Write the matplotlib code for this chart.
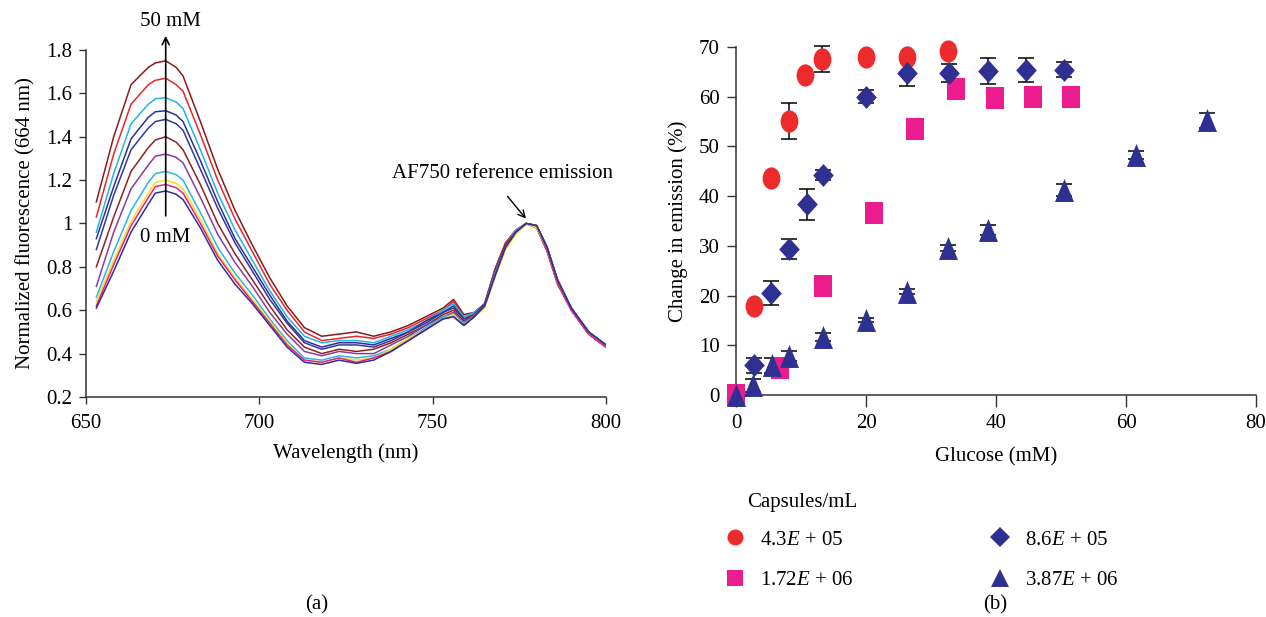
import matplotlib
matplotlib.use("Agg")
import matplotlib.pyplot as plt
import numpy as np
from matplotlib.lines import Line2D
from matplotlib.path import Path
from matplotlib.ticker import FormatStrFormatter
from matplotlib.transforms import Affine2D

plt.rcParams["font.family"] = ["Liberation Serif", "DejaVu Serif"]
plt.rcParams["mathtext.fontset"] = "custom"
plt.rcParams["mathtext.rm"] = "Liberation Serif"
plt.rcParams["mathtext.it"] = "Liberation Serif:italic"

# ---- panel (a): emission spectra, 50 mM (top) down to 0 mM (bottom) ----
wavelength_nm = [653, 658, 663, 668, 670, 673, 676, 678, 683, 688, 693, 698, 703, 708, 713,
                 718, 723, 728, 733, 738, 743, 748, 753, 756, 759, 762, 765, 768, 771, 774,
                 777, 780, 783, 786, 790, 795, 800]

spec_01 = [1.10, 1.40, 1.64, 1.72, 1.74, 1.75, 1.72, 1.68, 1.47, 1.25, 1.06, 0.90, 0.75, 0.62,
           0.52, 0.48, 0.49, 0.50, 0.48, 0.50, 0.53, 0.57, 0.61, 0.65, 0.58, 0.59, 0.63, 0.79,
           0.91, 0.97, 1.00, 0.98, 0.87, 0.72, 0.60, 0.49, 0.43]
spec_02 = [1.03, 1.32, 1.55, 1.64, 1.66, 1.67, 1.64, 1.61, 1.41, 1.20, 1.02, 0.87, 0.72, 0.60,
           0.50, 0.46, 0.47, 0.48, 0.47, 0.49, 0.52, 0.56, 0.60, 0.64, 0.57, 0.59, 0.63, 0.79,
           0.91, 0.97, 1.00, 0.98, 0.88, 0.73, 0.60, 0.49, 0.43]
spec_03 = [0.96, 1.23, 1.46, 1.55, 1.575, 1.58, 1.56, 1.53, 1.34, 1.14, 0.97, 0.83, 0.69, 0.57,
           0.48, 0.45, 0.46, 0.46, 0.45, 0.48, 0.51, 0.55, 0.60, 0.63, 0.57, 0.59, 0.63, 0.78,
           0.90, 0.97, 1.00, 0.99, 0.89, 0.74, 0.61, 0.50, 0.44]
spec_04 = [0.93, 1.17, 1.39, 1.49, 1.515, 1.52, 1.50, 1.47, 1.29, 1.10, 0.93, 0.80, 0.67, 0.55,
           0.46, 0.43, 0.45, 0.45, 0.44, 0.47, 0.50, 0.55, 0.59, 0.62, 0.56, 0.58, 0.63, 0.78,
           0.90, 0.96, 1.00, 0.99, 0.89, 0.74, 0.61, 0.50, 0.44]
spec_05 = [0.88, 1.13, 1.34, 1.44, 1.47, 1.48, 1.46, 1.43, 1.25, 1.07, 0.91, 0.78, 0.65, 0.54,
           0.45, 0.42, 0.44, 0.44, 0.43, 0.46, 0.50, 0.54, 0.59, 0.61, 0.56, 0.58, 0.62, 0.78,
           0.90, 0.96, 1.00, 0.99, 0.89, 0.74, 0.61, 0.50, 0.43]
spec_06 = [0.80, 1.03, 1.24, 1.35, 1.385, 1.40, 1.375, 1.34, 1.18, 1.00, 0.86, 0.74, 0.62, 0.51,
           0.43, 0.40, 0.42, 0.41, 0.42, 0.45, 0.49, 0.53, 0.58, 0.60, 0.55, 0.58, 0.62, 0.77,
           0.90, 0.96, 1.00, 0.98, 0.88, 0.73, 0.60, 0.49, 0.43]
spec_07 = [0.71, 0.96, 1.16, 1.27, 1.31, 1.32, 1.305, 1.28, 1.12, 0.95, 0.82, 0.71, 0.59, 0.49,
           0.41, 0.39, 0.41, 0.40, 0.40, 0.44, 0.48, 0.53, 0.57, 0.59, 0.54, 0.58, 0.62, 0.77,
           0.89, 0.96, 1.00, 0.99, 0.88, 0.73, 0.60, 0.49, 0.43]
spec_08 = [0.66, 0.87, 1.06, 1.19, 1.23, 1.24, 1.225, 1.20, 1.05, 0.89, 0.77, 0.67, 0.56, 0.46,
           0.38, 0.37, 0.39, 0.38, 0.39, 0.42, 0.47, 0.52, 0.57, 0.58, 0.54, 0.57, 0.62, 0.77,
           0.89, 0.96, 1.00, 0.99, 0.89, 0.74, 0.61, 0.50, 0.44]
spec_09 = [0.64, 0.83, 1.01, 1.14, 1.19, 1.20, 1.185, 1.16, 1.02, 0.86, 0.75, 0.65, 0.55, 0.45,
           0.37, 0.36, 0.38, 0.37, 0.38, 0.42, 0.47, 0.51, 0.56, 0.58, 0.53, 0.57, 0.61, 0.75,
           0.88, 0.95, 1.00, 0.98, 0.88, 0.73, 0.60, 0.49, 0.43]
spec_10 = [0.62, 0.81, 0.99, 1.12, 1.17, 1.18, 1.165, 1.14, 1.00, 0.85, 0.74, 0.64, 0.54, 0.44,
           0.37, 0.36, 0.38, 0.36, 0.38, 0.41, 0.46, 0.51, 0.56, 0.57, 0.53, 0.57, 0.62, 0.76,
           0.89, 0.96, 1.00, 0.99, 0.88, 0.73, 0.60, 0.49, 0.43]
spec_11 = [0.61, 0.78, 0.96, 1.09, 1.14, 1.15, 1.135, 1.11, 0.98, 0.83, 0.72, 0.63, 0.53, 0.43,
           0.36, 0.35, 0.37, 0.355, 0.37, 0.41, 0.46, 0.51, 0.56, 0.57, 0.53, 0.57, 0.62, 0.76,
           0.89, 0.96, 1.00, 0.99, 0.89, 0.74, 0.61, 0.50, 0.44]

spec_colors = ["#8b1a1a", "#e8262a", "#22b4e6", "#2e3192", "#33389a", "#8b2323",
               "#8e3a96", "#29b6e8", "#f2e31a", "#ec1c8c", "#2e3192"]

# ---- panel (b): change in emission vs glucose ----
red_x = [2.7, 5.4, 8.1, 10.6, 13.3, 20.0, 26.3, 32.6]
red_y = [17.9, 43.7, 55.1, 64.4, 67.6, 67.9, 67.9, 69.1]
red_err = [0, 0, 3.6, 0, 2.6, 0, 0, 0]

diamond_x = [2.7, 5.4, 8.2, 10.9, 13.4, 20.0, 26.3, 32.7, 38.7, 44.6, 50.5]
diamond_y = [6.0, 20.6, 29.3, 38.4, 44.3, 60.0, 64.7, 64.7, 65.2, 65.4, 65.4]
diamond_err = [1.5, 2.4, 2.0, 3.1, 1.0, 1.3, 2.6, 1.8, 2.6, 2.4, 1.5]

square_x = [0.0, 6.7, 13.4, 21.3, 27.5, 33.8, 39.8, 45.7, 51.5]
square_y = [0.0, 5.4, 21.9, 36.7, 53.5, 61.6, 59.8, 60.0, 60.0]

triangle_x = [0.0, 2.6, 5.5, 8.2, 13.4, 20.0, 26.3, 32.6, 38.7, 50.5, 61.6, 72.4]
triangle_y = [0.0, 2.0, 6.0, 7.8, 11.7, 15.1, 20.8, 29.5, 33.2, 41.2, 48.3, 55.3]
triangle_err = [0, 1.3, 1.5, 1.0, 0.8, 0.4, 0.5, 0.6, 1.0, 1.2, 0.8, 1.5]

legend_labels = ["4.3$E$ + 05", "1.72$E$ + 06", "8.6$E$ + 05", "3.87$E$ + 06"]

RED = "#ee2b2c"
PINK = "#ec1c8e"
NAVY = "#2e3192"
FS = 15

ellipse_marker = Path.unit_circle().transformed(Affine2D().scale(0.8, 1.0))
rect_marker = [(-0.78, -1), (0.78, -1), (0.78, 1), (-0.78, 1), (-0.78, -1)]
tri_marker = [(0, 1), (0.83, -1), (-0.83, -1), (0, 1)]
diamond_marker = [(0, 1), (0.9, 0), (0, -1), (-0.9, 0), (0, 1)]


def style_axes(axes, xlen, ylen):
    for side in ("top", "right"):
        axes.spines[side].set_visible(False)
    for side in ("left", "bottom"):
        axes.spines[side].set_color("#333333")
        axes.spines[side].set_linewidth(1.1)
    axes.tick_params(axis="x", direction="out", length=xlen, width=1.0,
                     color="#333333", pad=7.5, labelsize=FS)
    axes.tick_params(axis="y", direction="out", length=ylen, width=1.0,
                     color="#333333", pad=5, labelsize=FS)


def draw_spectra(axes):
    spectra = [spec_01, spec_02, spec_03, spec_04, spec_05, spec_06,
               spec_07, spec_08, spec_09, spec_10, spec_11]
    for values, color in zip(spectra, spec_colors):
        axes.plot(wavelength_nm, values, color=color, lw=1.1)

    axes.set_xlim(650, 800)
    axes.set_ylim(0.2, 1.8)
    axes.set_xticks([650, 700, 750, 800])
    axes.set_yticks(np.arange(0.2, 1.81, 0.2))
    axes.yaxis.set_major_formatter(FormatStrFormatter("%g"))
    style_axes(axes, 5, 5)
    axes.set_xlabel("Wavelength (nm)", fontsize=FS, labelpad=7.5)
    axes.set_ylabel("Normalized fluorescence (664 nm)", fontsize=FS, labelpad=7.5)

    axes.annotate("", xy=(673, 1.865), xytext=(673, 1.035), annotation_clip=False,
                  arrowprops=dict(arrowstyle="->,head_length=0.5,head_width=0.25",
                                  lw=1.2, color="black", shrinkA=0, shrinkB=0))
    axes.text(674.3, 1.93, "50 mM", ha="center", va="center", fontsize=FS)
    axes.text(672.8, 0.935, "0 mM", ha="center", va="center", fontsize=FS)
    axes.annotate("", xy=(776.9, 1.022), xytext=(771.6, 1.125),
                  arrowprops=dict(arrowstyle="->,head_length=0.5,head_width=0.25",
                                  lw=1.0, color="black", shrinkA=0, shrinkB=0))
    axes.text(770.1, 1.232, "AF750 reference emission", ha="center", va="center",
              fontsize=FS)


def draw_errorbars(axes, xs, ys, errs):
    keep = [i for i, e in enumerate(errs) if e > 0]
    axes.errorbar([xs[i] for i in keep], [ys[i] for i in keep],
                  yerr=[errs[i] for i in keep], fmt="none", ecolor="black",
                  elinewidth=1.1, capsize=6, capthick=1.1, zorder=2, clip_on=False)


def draw_glucose(axes):
    draw_errorbars(axes, red_x, red_y, red_err)
    draw_errorbars(axes, diamond_x, diamond_y, diamond_err)
    draw_errorbars(axes, triangle_x, triangle_y, triangle_err)

    axes.plot(red_x, red_y, ls="none", marker=ellipse_marker, ms=16, color=RED,
              mew=0, zorder=3, clip_on=False)
    axes.plot(square_x, square_y, ls="none", marker=rect_marker, ms=16.5, color=PINK,
              mew=0, zorder=3, clip_on=False)
    axes.plot(diamond_x, diamond_y, ls="none", marker=diamond_marker, ms=16.5, color=NAVY,
              mew=0, zorder=3, clip_on=False)
    axes.plot(triangle_x, triangle_y, ls="none", marker=tri_marker, ms=16.5, color=NAVY,
              mew=0, zorder=3, clip_on=False)

    axes.set_xlim(0, 80)
    axes.set_ylim(0, 70)
    axes.set_xticks([0, 20, 40, 60, 80])
    axes.set_yticks(range(0, 71, 10))
    style_axes(axes, 8.5, 6.7)
    axes.tick_params(axis="x", pad=5.5)
    axes.set_xlabel("Glucose (mM)", fontsize=FS, labelpad=10)
    axes.set_ylabel("Change in emission (%)", fontsize=FS, labelpad=8)


figure = plt.figure(figsize=(12.66, 6.17), dpi=100)
ax_a = figure.add_axes([0.0679, 0.3566, 0.4108, 0.5624])
ax_b = figure.add_axes([0.5814, 0.3598, 0.4107, 0.5640])

draw_spectra(ax_a)
draw_glucose(ax_b)

handles = [
    Line2D([], [], ls="none", marker="o", ms=11.5, color=RED, mew=0),
    Line2D([], [], ls="none", marker="s", ms=11, color=PINK, mew=0),
    Line2D([], [], ls="none", marker="D", ms=10, color=NAVY, mew=0),
    Line2D([], [], ls="none", marker="^", ms=13, color=NAVY, mew=0),
]
figure.legend(handles, legend_labels, ncol=2, loc="upper left",
              bbox_to_anchor=(0.5645, 0.158), frameon=False,
              fontsize=FS, columnspacing=6.5, labelspacing=1.0,
              handletextpad=0.7, handlelength=1.0, borderpad=0)
figure.text(747 / 1266, 1 - 503 / 617, "Capsules/mL", ha="left", va="center", fontsize=FS)

figure.text(317 / 1266, 1 - 605 / 617, "(a)", ha="center", va="center", fontsize=FS)
figure.text(995 / 1266, 1 - 605 / 617, "(b)", ha="center", va="center", fontsize=FS)

figure.savefig("out.png", dpi=100)
plt.close(figure)
